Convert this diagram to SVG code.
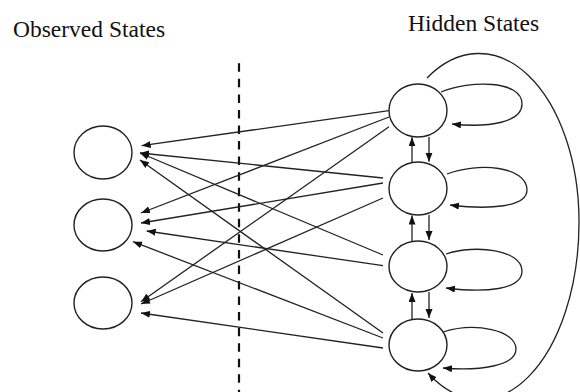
<svg xmlns="http://www.w3.org/2000/svg" width="580" height="392" viewBox="0 0 580 392">
<style>
.t{font-family:"Liberation Serif","Times New Roman",serif;font-size:23.5px;fill:#111}
.n{fill:#fff;stroke:#222;stroke-width:1.4}
.e{fill:none;stroke:#222;stroke-width:1.3}
.d{fill:none;stroke:#111;stroke-width:2.2;stroke-dasharray:8.5 7.05}
</style>
<defs>
<marker id="ah" markerUnits="userSpaceOnUse" markerWidth="10" markerHeight="8" refX="9" refY="3.5" orient="auto">
<path d="M0,0 L9,3.5 L0,7 z" fill="#111"/>
</marker>
</defs>
<rect width="580" height="392" fill="#fff"/>
<text class="t" x="13" y="36.7">Observed States</text>
<text class="t" x="408" y="31">Hidden States</text>
<line class="d" x1="239" y1="63.3" x2="239" y2="392"/>
<g id="connectors">
<line class="e" x1="389" y1="110.7" x2="141.7" y2="145.7" marker-end="url(#ah)"/>
<line class="e" x1="389" y1="117" x2="141" y2="213" marker-end="url(#ah)"/>
<line class="e" x1="389" y1="126.7" x2="141" y2="301.7" marker-end="url(#ah)"/>
<line class="e" x1="383" y1="178" x2="140" y2="153" marker-end="url(#ah)"/>
<line class="e" x1="383" y1="183" x2="141" y2="223" marker-end="url(#ah)"/>
<line class="e" x1="383" y1="198" x2="141" y2="304" marker-end="url(#ah)"/>
<line class="e" x1="383" y1="255" x2="140" y2="153" marker-end="url(#ah)"/>
<line class="e" x1="383" y1="265.7" x2="146.7" y2="231" marker-end="url(#ah)"/>
<line class="e" x1="383" y1="333" x2="140" y2="160" marker-end="url(#ah)"/>
<line class="e" x1="383" y1="338" x2="133" y2="241.7" marker-end="url(#ah)"/>
<line class="e" x1="383" y1="348" x2="141" y2="313" marker-end="url(#ah)"/>
<line class="e" x1="412" y1="162" x2="412" y2="137.3" marker-end="url(#ah)"/>
<line class="e" x1="429" y1="137" x2="429" y2="161.7" marker-end="url(#ah)"/>
<line class="e" x1="412" y1="241" x2="412" y2="215.5" marker-end="url(#ah)"/>
<line class="e" x1="429" y1="215" x2="429" y2="240" marker-end="url(#ah)"/>
<line class="e" x1="412" y1="319" x2="412" y2="293" marker-end="url(#ah)"/>
<line class="e" x1="429" y1="292" x2="429" y2="318" marker-end="url(#ah)"/>
<path class="e" d="M441,92 C470,80 522,80 522,104 C522,122 490,128 452,124" marker-end="url(#ah)"/>
<path class="e" d="M447,174 C478,162 527,166 527,190 C527,207 490,210 450,205" marker-end="url(#ah)"/>
<path class="e" d="M446,254 C476,244 522,250 522,271 C522,290 485,293 446,288" marker-end="url(#ah)"/>
<path class="e" d="M443,332 C475,322 516,330 516,349 C516,366 480,371 443,368" marker-end="url(#ah)"/>
<path class="e" d="M427,78 A100,168 0 0 1 579,222 A99,177 0 0 1 428,373" marker-end="url(#ah)"/>
</g>
<g id="obs1"><ellipse class="n" cx="103" cy="152.5" rx="29" ry="26.5"/></g>
<g id="obs2"><ellipse class="n" cx="103" cy="225" rx="29" ry="26"/></g>
<g id="obs3"><ellipse class="n" cx="103" cy="303" rx="29" ry="26"/></g>
<g id="hid1"><ellipse class="n" cx="418" cy="110.5" rx="29" ry="26.5"/></g>
<g id="hid2"><ellipse class="n" cx="418" cy="188.5" rx="29" ry="26.5"/></g>
<g id="hid3"><ellipse class="n" cx="418" cy="266.5" rx="29" ry="25.5"/></g>
<g id="hid4"><ellipse class="n" cx="418" cy="345" rx="29" ry="26"/></g>
</svg>
